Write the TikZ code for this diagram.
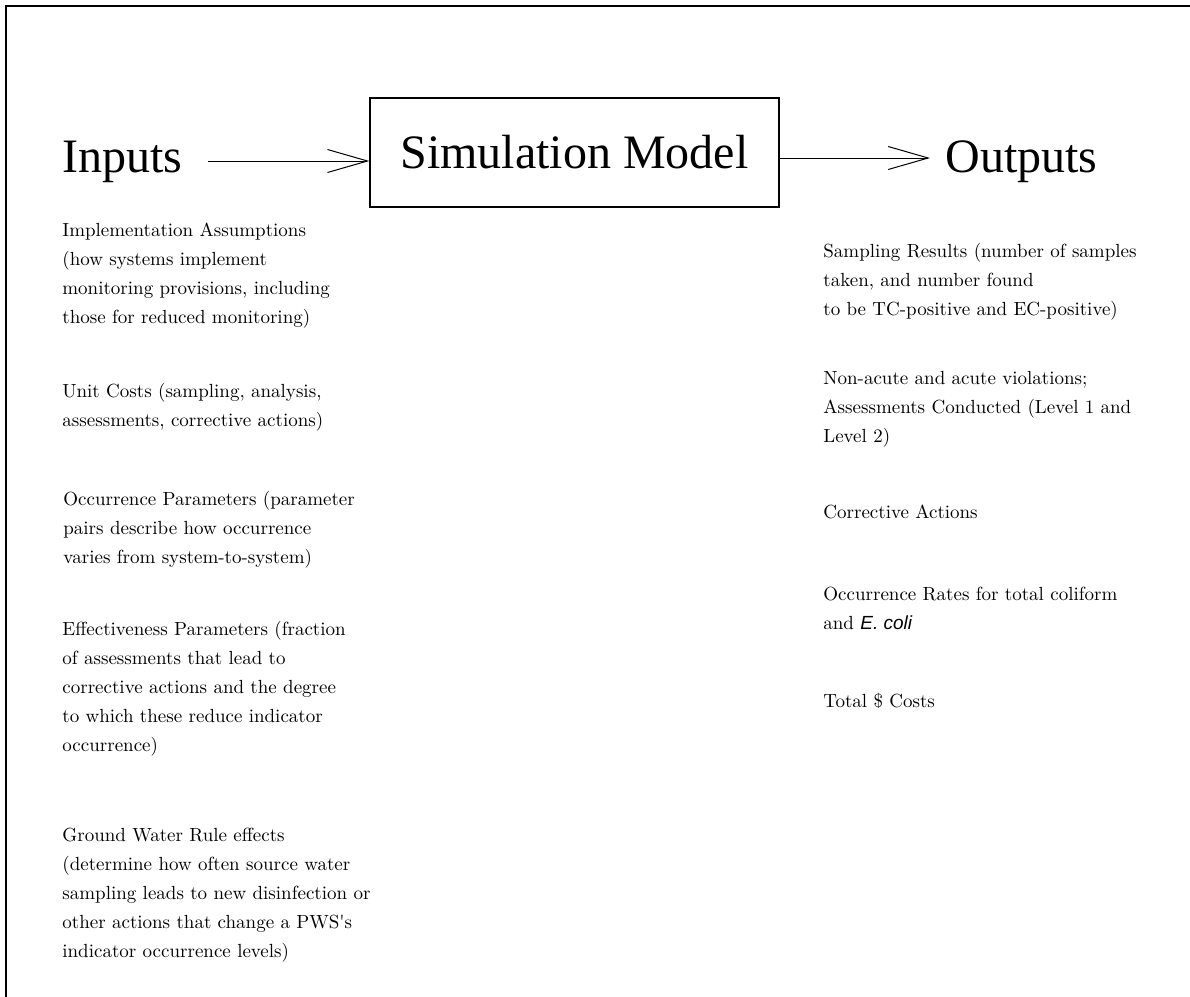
\documentclass[tikz,border=0pt]{standalone}
\usepackage{fontspec}
\usetikzlibrary{arrows.meta}
\usetikzlibrary{positioning}
\newfontfamily\headfont{Liberation Serif}
\newfontfamily\coliFont{Liberation Sans}

\begin{document}
\begin{tikzpicture}[x=0.5pt,y=-0.5pt]
\tikzset{heading/.style={font=\headfont\fontsize{24}{28}\selectfont,inner sep=0pt},
  itemtext/.style={font=\fontsize{9.5}{14.5}\selectfont,align=left,anchor=north west,inner sep=0pt,execute at begin node=\strut},
  flow/.style={-{Straight Barb[length=20pt,width=11.5pt]},line width=0.5pt}}
\useasboundingbox (0,0) rectangle (1190,997);
\draw[line width=0.9pt] (6,997) -- (6,6) -- (1190,6);
% top row
\node[heading,anchor=base west](inputs) at (62,172){Inputs};
\node[heading,draw,line width=0.7pt,minimum width=204.5pt,minimum height=54.5pt](sim) at (574.5,152.5){Simulation Model};
\node[heading,anchor=base west](outputs) at (945,172){Outputs};
\coordinate (inarr) at ([xshift=12.5pt,yshift=5.5pt]inputs.base east);
\draw[flow](inarr) -- (inarr -| sim.west);
\coordinate (outarr) at ([xshift=-7.5pt,yshift=7pt]outputs.base west);
\draw[flow](outarr -| sim.east) -- (outarr);
% inputs
\node[itemtext](in1) at (62,222){Implementation Assumptions\\(how systems implement\\monitoring provisions, including\\those for reduced monitoring)};
\node[itemtext](in2) at (62,383){Unit Costs (sampling, analysis,\\assessments, corrective actions)};
\node[itemtext](in3) at (63,491){Occurrence Parameters (parameter\\pairs describe how occurrence\\varies from system-to-system)};
\node[itemtext](in4) at (62,621){Effectiveness Parameters (fraction\\of assessments that lead to\\corrective actions and the degree\\to which these reduce indicator\\occurrence)};
\node[itemtext](in5) at (62,828){Ground Water Rule effects\\(determine how often source water\\sampling leads to new disinfection or\\other actions that change a PWS\textquotesingle s\\indicator occurrence levels)};
% outputs
\node[itemtext](out1) at (823,243){Sampling Results (number of samples\\taken, and number found\\to be TC-positive and EC-positive)};
\node[itemtext](out2) at (823,371){Non-acute and acute violations;\\Assessments Conducted (Level 1 and\\Level 2)};
\node[itemtext](out3) at (823,498){Corrective Actions};
\node[itemtext](out4) at (823,587){Occurrence Rates for total coliform\\and {\coliFont\itshape E. coli}};
\node[itemtext](out5) at (823,687){Total \$ Costs};
\end{tikzpicture}
\end{document}
